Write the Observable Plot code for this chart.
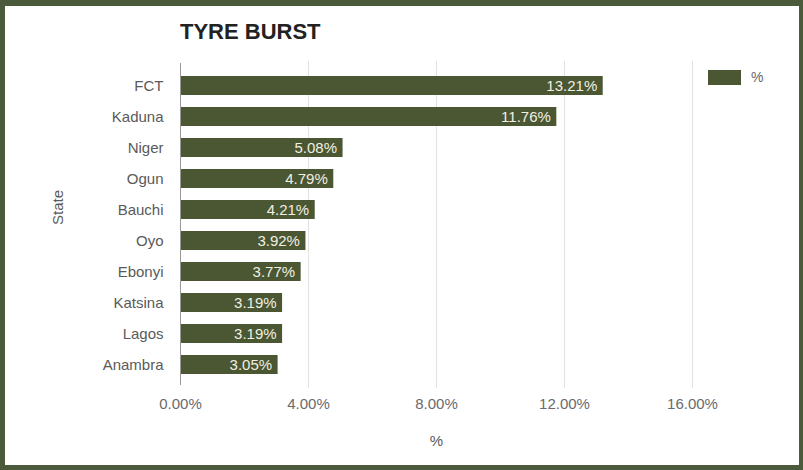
<!DOCTYPE html>
<html>
<head>
<meta charset="utf-8">
<script src="https://cdn.jsdelivr.net/npm/d3@7"></script>
<script src="https://cdn.jsdelivr.net/npm/@observablehq/plot@0.6"></script>
<style>
  html, body { margin: 0; padding: 0; background: #fff; }
  #wrap { position: relative; width: 803px; height: 470px; overflow: hidden; font-family: "Liberation Sans", Arial, sans-serif; }
  #frame { position: absolute; left: 0; top: 0; width: 803px; height: 470px; box-sizing: border-box;
           border-style: solid; border-color: #4a5a3b; border-width: 6px 4px 5px 5px; pointer-events: none; }
  #title { position: absolute; left: 180px; top: 19px; font-size: 22px; font-weight: bold; color: #222; white-space: nowrap; }
  #legend { position: absolute; left: 708px; top: 69px; display: flex; align-items: center; font-size: 14px; color: #666; }
  #legend .sw { width: 33px; height: 15px; background: #4b5632; margin-right: 10px; }
  #chart { position: absolute; left: 0; top: 0; }
</style>
</head>
<body>
<div id="wrap">
  <div id="chart"></div>
  <div id="title">TYRE BURST</div>
  <div id="legend"><div class="sw"></div><span>%</span></div>
  <div id="frame"></div>
</div>
<script>
const states = ["FCT", "Kaduna", "Niger", "Ogun", "Bauchi", "Oyo", "Ebonyi", "Katsina", "Lagos", "Anambra"];
const values = [13.21, 11.76, 5.08, 4.79, 4.21, 3.92, 3.77, 3.19, 3.19, 3.05];
const xTicks = [0, 4, 8, 12, 16];
const seriesName = "%";
const yLabel = "State";
const xLabel = "%";

const data = states.map((s, i) => ({state: s, value: values[i]}));
const fmt = d => d.toFixed(2) + "%";
const barColor = "#4b5632";

const chart = Plot.plot({
  width: 803,
  height: 470,
  marginLeft: 180,
  marginRight: 111,
  marginTop: 61,
  marginBottom: 82,
  style: { fontFamily: "'Liberation Sans', Arial, sans-serif", fontSize: "15px", color: "#666", background: "transparent" },
  x: { domain: [0, 16], ticks: xTicks, tickFormat: fmt, label: null },
  y: { domain: states, padding: 0.4, label: null },
  marks: [
    Plot.gridX(xTicks.filter(t => t > 0), { stroke: "#e2e2e2", strokeOpacity: 1 }),
    Plot.axisX({ ticks: xTicks, tickFormat: fmt, tickSize: 0, tickPadding: 10, label: null, fill: "#6a6a6a", fontSize: 15 }),
    Plot.axisY({ tickSize: 0, tickPadding: 17, label: null, fill: "#5a5a5a", fontSize: 15 }),
    Plot.barX(data, { x: "value", y: "state", fill: barColor }),
    Plot.ruleX([0], { stroke: "#999", insetTop: 2, insetBottom: 3 }),
    Plot.text(data, { x: "value", y: "state", text: d => fmt(d.value), textAnchor: "end", dx: -6, fill: "#f0f0e2", fontSize: 15 }),
    Plot.text([yLabel], { frameAnchor: "left", dx: -122, rotate: -90, fill: "#5a5a5a", fontSize: 15 }),
    Plot.text([xLabel], { frameAnchor: "bottom", dy: 57, fill: "#5a5a5a", fontSize: 15 })
  ]
});
document.getElementById("chart").appendChild(chart);
</script>
</body>
</html>
